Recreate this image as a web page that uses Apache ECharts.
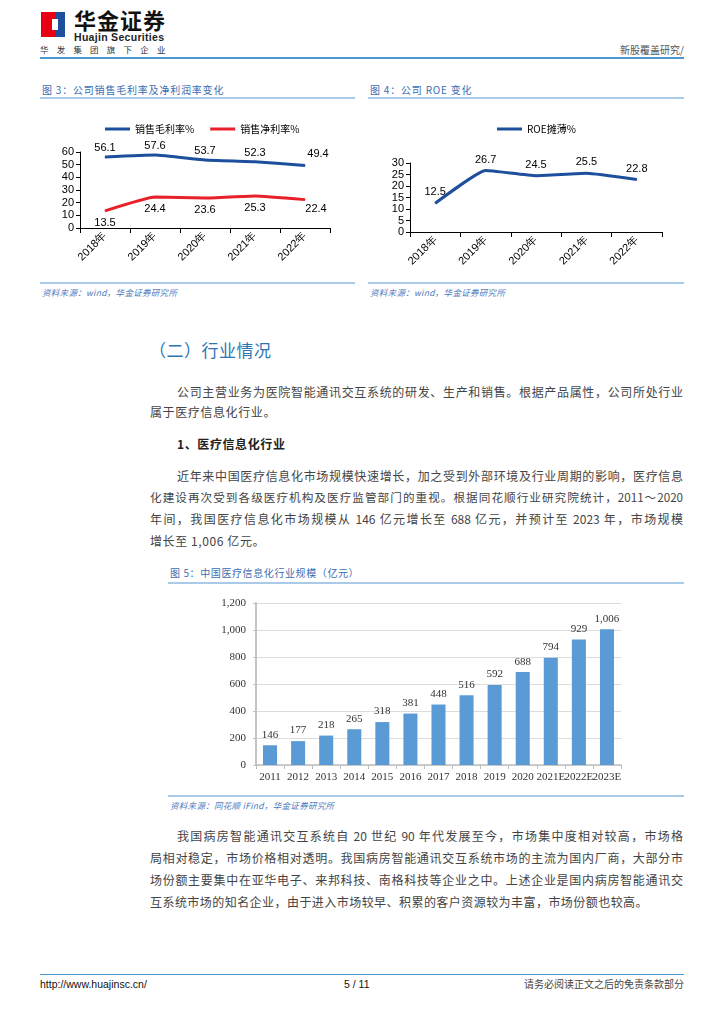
<!DOCTYPE html>
<html>
<head>
<meta charset="utf-8">
<script src="https://cdn.jsdelivr.net/npm/echarts@6/dist/echarts.min.js"></script>
<style>
  html, body { margin:0; padding:0; background:#fff; }
  body { width:724px; height:1024px; position:relative; overflow:hidden;
         font-family:"Noto Sans CJK SC","Liberation Sans",sans-serif; color:#444; }
  .abs { position:absolute; }
  .line { position:absolute; height:0; }
  .txt { position:absolute; font-size:12px; line-height:14px; color:#444; white-space:nowrap; }
  .jus { position:absolute; font-size:12px; line-height:14px; color:#444;
         text-align:justify; text-align-last:justify; }
  .ctitle { position:absolute; font-size:10px; line-height:12px; color:#3a6db3; letter-spacing:0.8px; white-space:nowrap; }
  .src { position:absolute; font-size:8.5px; line-height:10px; color:#4a78bd; font-style:italic; white-space:nowrap; letter-spacing:0.3px; }
</style>
</head>
<body>
<!-- header -->
<div class="abs" style="left:41px;top:12px;width:14px;height:25px;background:#e60012;"></div>
<div class="abs" style="left:55px;top:12px;width:10px;height:25px;background:#1d4f9c;"></div>
<div class="abs" style="left:52px;top:19px;width:6px;height:11px;background:#fff;"></div>
<div class="abs" style="left:74px;top:7px;font-size:22px;line-height:24px;font-weight:bold;color:#111;letter-spacing:1px;white-space:nowrap;">华金证券</div>
<div class="abs" style="left:74px;top:32px;font-size:10.5px;line-height:11px;font-family:'Liberation Sans';font-weight:bold;color:#222;white-space:nowrap;letter-spacing:0.3px;">Huajin Securities</div>
<div class="abs" style="left:40px;top:44px;font-size:8.5px;line-height:10px;color:#333;letter-spacing:8.2px;white-space:nowrap;">华发集团旗下企业</div>
<div class="abs" style="left:600px;top:44px;width:84px;text-align:right;font-size:10px;line-height:12px;color:#555;white-space:nowrap;">新股覆盖研究/</div>
<div class="line" style="left:40px;top:57px;width:644px;border-top:2px solid #4a98d0;"></div>

<!-- chart titles -->
<div class="ctitle" style="left:42px;top:84px;">图 3：公司销售毛利率及净利润率变化</div>
<div class="line" style="left:40px;top:97px;width:315px;border-top:2px solid #a9cbe8;"></div>
<div class="ctitle" style="left:370px;top:84px;">图 4：公司 ROE 变化</div>
<div class="line" style="left:368px;top:97px;width:316px;border-top:2px solid #a9cbe8;"></div>

<div id="c3" class="abs" style="left:30px;top:100px;width:330px;height:180px;"></div>
<div id="c4" class="abs" style="left:360px;top:100px;width:330px;height:180px;"></div>

<div class="line" style="left:40px;top:282px;width:315px;border-top:2px solid #a9cbe8;"></div>
<div class="line" style="left:368px;top:282px;width:316px;border-top:2px solid #a9cbe8;"></div>
<div class="src" style="left:42px;top:287px;">资料来源：wind，华金证券研究所</div>
<div class="src" style="left:370px;top:287px;">资料来源：wind，华金证券研究所</div>

<!-- section -->
<div class="abs" style="left:149px;top:339px;font-size:17px;line-height:22px;color:#2e74b5;white-space:nowrap;letter-spacing:0.5px;">（二）行业情况</div>

<div class="jus" style="left:177px;top:385px;width:506px;">公司主营业务为医院智能通讯交互系统的研发、生产和销售。根据产品属性，公司所处行业</div>
<div class="txt" style="left:150px;top:405px;letter-spacing:0.6px;">属于医疗信息化行业。</div>

<div class="txt" style="left:177px;top:437px;font-weight:bold;color:#222;letter-spacing:0.6px;">1、医疗信息化行业</div>

<div class="jus" style="left:177px;top:469px;width:506px;">近年来中国医疗信息化市场规模快速增长，加之受到外部环境及行业周期的影响，医疗信息</div>
<div class="jus" style="left:150px;top:490px;width:533px;font-size:11.6px;">化建设再次受到各级医疗机构及医疗监管部门的重视。根据同花顺行业研究院统计，2011～2020</div>
<div class="jus" style="left:150px;top:512px;width:533px;">年间，我国医疗信息化市场规模从 146 亿元增长至 688 亿元，并预计至 2023 年，市场规模</div>
<div class="txt" style="left:150px;top:534px;letter-spacing:0.6px;">增长至 1,006 亿元。</div>

<!-- chart 5 -->
<div class="ctitle" style="left:170px;top:567px;letter-spacing:0.6px;">图 5：中国医疗信息化行业规模（亿元）</div>
<div class="line" style="left:168px;top:582px;width:516px;border-top:2px solid #a9cbe8;"></div>
<div id="c5" class="abs" style="left:160px;top:590px;width:530px;height:205px;"></div>
<div class="line" style="left:168px;top:795px;width:516px;border-top:2px solid #a9cbe8;"></div>
<div class="src" style="left:170px;top:800px;">资料来源：同花顺 iFind，华金证券研究所</div>

<div class="jus" style="left:177px;top:829px;width:506px;">我国病房智能通讯交互系统自 20 世纪 90 年代发展至今，市场集中度相对较高，市场格</div>
<div class="jus" style="left:150px;top:851px;width:533px;">局相对稳定，市场价格相对透明。我国病房智能通讯交互系统市场的主流为国内厂商，大部分市</div>
<div class="jus" style="left:150px;top:873px;width:533px;">场份额主要集中在亚华电子、来邦科技、南格科技等企业之中。上述企业是国内病房智能通讯交</div>
<div class="txt" style="left:150px;top:895px;letter-spacing:0.45px;">互系统市场的知名企业，由于进入市场较早、积累的客户资源较为丰富，市场份额也较高。</div>

<!-- footer -->
<div class="line" style="left:40px;top:974px;width:644px;border-top:1px solid #4a98d0;"></div>
<div class="abs" style="left:40px;top:978px;font-size:10.5px;line-height:12px;font-family:'Liberation Sans';color:#111;white-space:nowrap;">http://www.huajinsc.cn/</div>
<div class="abs" style="left:344px;top:978px;font-size:10.5px;line-height:12px;font-family:'Liberation Sans';color:#111;white-space:nowrap;">5 / 11</div>
<div class="abs" style="left:480px;top:978px;width:204px;text-align:right;font-size:10px;line-height:12px;color:#444;white-space:nowrap;">请务必阅读正文之后的免责条款部分</div>

<script>
// ---- data ----
const years = ['2018年', '2019年', '2020年', '2021年', '2022年'];
const grossMargin = [56.1, 57.6, 53.7, 52.3, 49.4];
const netMargin = [13.5, 24.4, 23.6, 25.3, 22.4];
const roeDiluted = [12.5, 26.7, 24.5, 25.5, 22.8];
const marketYears = ['2011', '2012', '2013', '2014', '2015', '2016', '2017', '2018', '2019', '2020', '2021E', '2022E', '2023E'];
const marketSize = [146, 177, 218, 265, 318, 381, 448, 516, 592, 688, 794, 929, 1006];
const pctTicks = { c3: { min: 0, max: 60, interval: 10 }, c4: { min: 0, max: 30, interval: 5 } };
const sizeTicks = { min: 0, max: 1200, interval: 200 };

const BLUE = '#1d4f9c', RED = '#e8202a';
const sans = 'Liberation Sans';
const serif = 'Liberation Serif';

function catAxis(data) {
  return {
    type: 'category', data: data, boundaryGap: true,
    axisLine: { lineStyle: { color: '#000', width: 1 } },
    axisTick: { show: true, length: 5, lineStyle: { color: '#000' } },
    axisLabel: { rotate: 45, fontFamily: sans, fontSize: 11, color: '#000', margin: 6 }
  };
}
function valAxis(t) {
  return {
    type: 'value', min: t.min, max: t.max, interval: t.interval,
    axisLine: { show: true, lineStyle: { color: '#000', width: 1 } },
    axisTick: { show: true, length: 4, lineStyle: { color: '#000' } },
    splitLine: { show: false },
    axisLabel: { fontFamily: sans, fontSize: 11, color: '#000', margin: 6 }
  };
}
const legendBase = {
  icon: 'rect', itemWidth: 25, itemHeight: 3, itemGap: 16, top: 19,
  textStyle: { fontSize: 10, color: '#000', fontFamily: 'Noto Sans CJK SC' }
};
function lineSeries(name, color, data, pos, dist, lastOffset) {
  return {
    name: name, type: 'line', smooth: 0.12, symbol: 'circle', symbolSize: 1, showSymbol: true, color: color,
    lineStyle: { width: 3, color: color }, itemStyle: { color: color },
    data: data.map((v, i) => (lastOffset && i === data.length - 1) ? { value: v, label: { offset: lastOffset } } : v),
    label: { show: true, position: pos, distance: dist, fontFamily: sans, fontSize: 11, color: '#000' }
  };
}

// chart 3
const c3 = echarts.init(document.getElementById('c3'));
c3.setOption({
  animation: false,
  legend: Object.assign({}, legendBase, { left: 70, data: ['销售毛利率%', '销售净利率%'] }),
  grid: { left: 50, top: 52, width: 250, height: 76 },
  xAxis: catAxis(years),
  yAxis: valAxis(pctTicks.c3),
  series: [
    lineSeries('销售毛利率%', BLUE, grossMargin, 'top', 3, [13, -2]),
    lineSeries('销售净利率%', RED, netMargin, 'bottom', 6, [11, -3])
  ]
});

// chart 4
const c4 = echarts.init(document.getElementById('c4'));
c4.setOption({
  animation: false,
  legend: Object.assign({}, legendBase, { left: 132, data: ['ROE摊薄%'] }),
  grid: { left: 50, top: 63, width: 252, height: 69 },
  xAxis: catAxis(years),
  yAxis: valAxis(pctTicks.c4),
  series: [lineSeries('ROE摊薄%', BLUE, roeDiluted, 'top', 5, null)]
});

// chart 5
const fmt = v => Number(v).toLocaleString('en-US');
const c5 = echarts.init(document.getElementById('c5'));
c5.setOption({
  animation: false,
  grid: { left: 96, top: 13, width: 365, height: 162 },
  xAxis: {
    type: 'category', data: marketYears, boundaryGap: true,
    axisLine: { lineStyle: { color: '#bfbfbf', width: 1.5 } },
    axisTick: { show: true, length: 4, lineStyle: { color: '#bfbfbf' } },
    axisLabel: { fontFamily: serif, fontSize: 11, color: '#333', margin: 7, interval: 0 }
  },
  yAxis: {
    type: 'value', min: sizeTicks.min, max: sizeTicks.max, interval: sizeTicks.interval,
    axisLine: { show: true, lineStyle: { color: '#c4c4c4', width: 2 } },
    axisTick: { show: true, length: 3, lineStyle: { color: '#bfbfbf' } },
    splitLine: { show: true, lineStyle: { color: '#dcdcdc', width: 1 } },
    axisLabel: { fontFamily: serif, fontSize: 11, color: '#333', margin: 10, formatter: fmt }
  },
  series: [{
    type: 'bar', data: marketSize, barWidth: '50%',
    itemStyle: { color: '#5b9bd5' },
    label: { show: true, position: 'top', distance: 5, fontFamily: serif, fontSize: 11, color: '#333', formatter: p => fmt(p.value) }
  }]
});
</script>
</body>
</html>
